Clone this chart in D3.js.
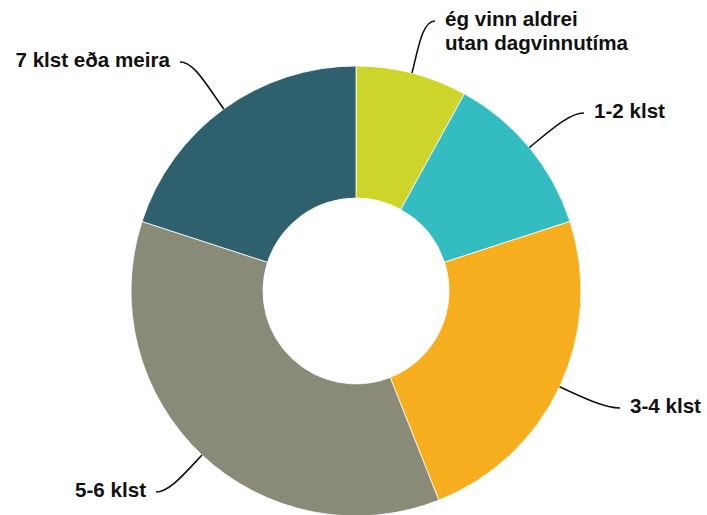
<!DOCTYPE html>
<html>
<head>
<meta charset="utf-8">
<script src="https://cdn.jsdelivr.net/npm/d3@7"></script>
<style>
  body { margin: 0; background: #fff; }
  text { font-family: "Liberation Sans", Arial, sans-serif; font-weight: bold; font-size: 20.6px; fill: #111; }
</style>
</head>
<body>
<div id="chart"></div>
<script>
// data (percent)
const categories = ["ég vinn aldrei\nutan dagvinnutíma", "1-2 klst", "3-4 klst", "5-6 klst", "7 klst eða meira"];
const values = [8, 12, 24, 36, 20];
const colors = ["#CED52A", "#33BDC0", "#F6AE1E", "#8A8A78", "#2E606E"];

// where each label sits (text anchor point) and which side it reads from
const labelPos = [
    { x: 445, y: 26, anchor: "start" },
    { x: 594, y: 118, anchor: "start" },
    { x: 630, y: 413, anchor: "start" },
    { x: 146, y: 497, anchor: "end" },
    { x: 170, y: 67, anchor: "end" }
];

const width = 707, height = 515;
const cx = 356, cy = 291;
const outerR = 225, innerR = 93;

const svg = d3.select("#chart")
    .append("svg")
    .attr("width", width)
    .attr("height", height);

const g = svg.append("g")
    .attr("transform", `translate(${cx}, ${cy})`);

const pie = d3.pie().sort(null).value(d => d.value);
const arcs = pie(categories.map((c, i) => ({ name: c, value: values[i], color: colors[i] })));

const arc = d3.arc().innerRadius(innerR).outerRadius(outerR);

g.selectAll("path.slice")
    .data(arcs)
    .join("path")
    .attr("class", "slice")
    .attr("d", arc)
    .attr("fill", d => d.data.color)
    .attr("stroke", "#fff")
    .attr("stroke-width", 0.8);

// leader lines: leave the slice radially, bend to horizontal at the label
g.selectAll("path.leader")
    .data(arcs)
    .join("path")
    .attr("class", "leader")
    .attr("fill", "none")
    .attr("stroke", "#111")
    .attr("stroke-width", 1.6)
    .attr("d", (d, i) => {
        const a = (d.startAngle + d.endAngle) / 2;
        const sx = Math.sin(a) * outerR, sy = -Math.cos(a) * outerR;
        const lp = labelPos[i];
        const dir = lp.anchor === "start" ? 1 : -1;
        const ex = lp.x - cx - dir * 10;
        const ey = lp.y - cy - 5;
        const dist = Math.hypot(ex - sx, ey - sy);
        const k = dist * 0.45;
        const c1x = sx + Math.sin(a) * k, c1y = sy - Math.cos(a) * k;
        const c2x = ex - dir * k * 0.5, c2y = ey;
        return `M${sx},${sy}C${c1x},${c1y} ${c2x},${c2y} ${ex},${ey}`;
    });

// labels
svg.selectAll("text.label")
    .data(arcs)
    .join("text")
    .attr("class", "label")
    .attr("x", (d, i) => labelPos[i].x)
    .attr("y", (d, i) => labelPos[i].y)
    .attr("text-anchor", (d, i) => labelPos[i].anchor)
    .each(function(d, i) {
        const lines = d.data.name.split("\n");
        d3.select(this).selectAll("tspan")
            .data(lines)
            .join("tspan")
            .attr("x", labelPos[i].x)
            .attr("dy", (l, j) => j === 0 ? 0 : 24)
            .text(l => l);
    });
</script>
</body>
</html>
